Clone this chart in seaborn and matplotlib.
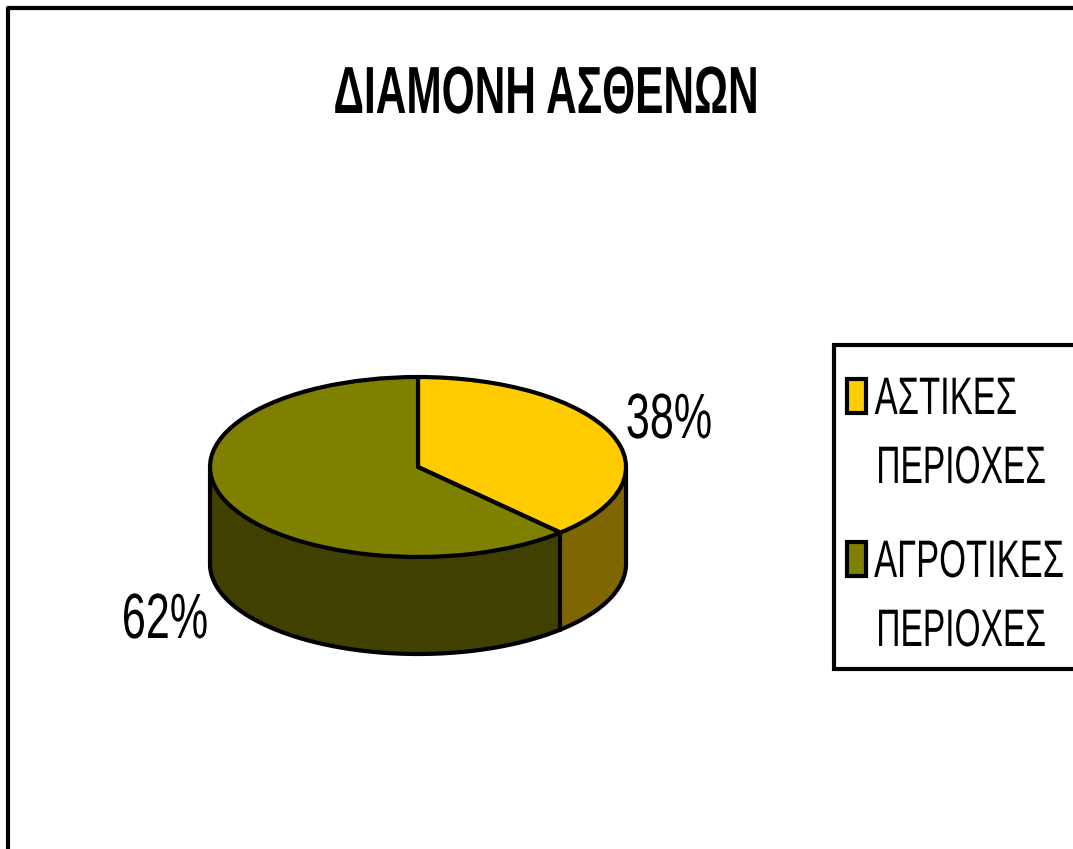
import matplotlib
matplotlib.use('Agg')
import matplotlib.pyplot as plt
import matplotlib.patheffects as pe
from matplotlib.patches import Rectangle
from matplotlib.transforms import Affine2D
import numpy as np
import seaborn as sns

W, H = 1073, 849

# Data
title = "ΔΙΑΜΟΝΗ ΑΣΘΕΝΩΝ"
categories = ["ΑΣΤΙΚΕΣ\nΠΕΡΙΟΧΕΣ", "ΑΓΡΟΤΙΚΕΣ\nΠΕΡΙΟΧΕΣ"]
values = [38, 62]
top_colors = ["#FFCC00", "#808000"]
side_colors = ["#806600", "#404000"]

sns.set_theme(style="white")
plt.rcParams['font.family'] = ['Liberation Sans', 'DejaVu Sans']

fig = plt.figure(figsize=(W / 100, H / 100), dpi=100, facecolor="white")
LW = 3


def fx(px):
    return px / W


def fy(py):
    return 1 - py / H


# no narrow font is installed, so squeeze the glyphs sideways around the anchor
class Squeeze(pe.AbstractPathEffect):
    def __init__(self, x0, sx):
        super().__init__()
        self.x0 = x0
        self.sx = sx

    def draw_path(self, renderer, gc, tpath, affine, rgbFace=None):
        squeeze = Affine2D().translate(-self.x0, 0).scale(self.sx, 1).translate(self.x0, 0)
        renderer.draw_path(gc, tpath, affine + squeeze, rgbFace)


def put_text(px, py, s, size, sx, ha="right", **kw):
    t = fig.text(fx(px), fy(py), s, ha=ha, va="center", fontsize=size, color="black", **kw)
    t.set_path_effects([Squeeze(px, sx)])
    return t


# outer frame, bottom and right run off the picture
fig.add_artist(plt.Line2D([fx(8), fx(8), fx(W + 5)], [fy(H + 5), fy(8), fy(8)],
                          color="black", lw=LW))

put_text(546, 96, title, 48, 0.636, ha="center", fontweight="bold")

# pie axes, squashed so the circle becomes the tilted top of the disc
cx, cy, rx, ry, depth = 418, 467, 208, 90, 97
ax = fig.add_axes([0, 0, 1, 1])
wedges, _ = ax.pie(values, startangle=90, counterclock=False, colors=top_colors,
                   wedgeprops=dict(edgecolor="black", linewidth=LW, joinstyle="round", zorder=3))
ax.set_aspect("auto")
ax.set_xlim(-cx / rx, (W - cx) / rx)
ax.set_ylim((cy - H) / ry, cy / ry)
ax.axis("off")

# side wall of the disc, only the front half shows
d = depth / ry
split = values[0] / sum(values) * 2 * np.pi
parts = [(np.pi / 2, split, side_colors[0]), (split, 3 * np.pi / 2, side_colors[1])]
for start, end, col in parts:
    t = np.linspace(start, end, 120)
    x = np.sin(t)
    y = np.cos(t)
    ax.fill_between(x, y, y - d, facecolor=col, edgecolor="none", zorder=1)
    ax.plot(x, y - d, color="black", lw=LW, zorder=2)
for t in [np.pi / 2, split, 3 * np.pi / 2]:
    ax.plot([np.sin(t)] * 2, [np.cos(t), np.cos(t) - d], color="black", lw=LW, zorder=2)

# percentage labels
put_text(669, 421, f"{values[0]}%", 46, 0.675, ha="center")
put_text(165, 621, f"{values[1]}%", 46, 0.675, ha="center")

# legend box
fig.add_artist(Rectangle((fx(834), fy(669)), fx(W + 10 - 834), fy(345) - fy(669),
                         transform=fig.transFigure, facecolor="white", edgecolor="black", lw=LW))
rows = [(400, 469, 1017, 1046), (563, 632, 1064, 1046)]
for (y1, y2, end1, end2), label, col in zip(rows, categories, top_colors):
    line1, line2 = label.split("\n")
    fig.add_artist(Rectangle((fx(847), fy(y1 + 13)), fx(19), fy(y1 - 21) - fy(y1 + 13),
                             transform=fig.transFigure, facecolor=col, edgecolor="black", lw=LW))
    put_text(end1, y1, line1, 38, 0.654)
    put_text(end2, y2, line2, 38, 0.635)

plt.savefig("out.png", dpi=100)
plt.close()
